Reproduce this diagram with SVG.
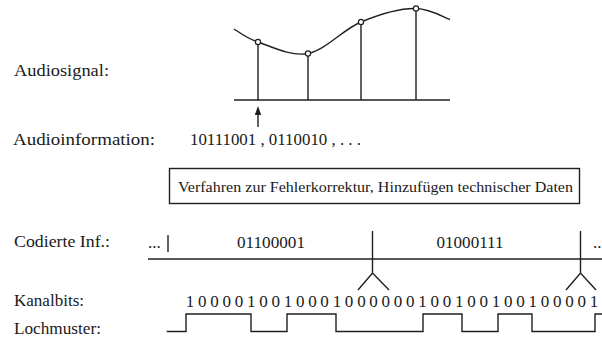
<svg xmlns="http://www.w3.org/2000/svg" width="602" height="350" viewBox="0 0 602 350">
<style>
text{font-family:"Liberation Serif","Times New Roman",serif;fill:#1a1a1a}
.lbl{font-size:17px}
.ln{stroke:#1f1f1f;stroke-width:1.4;fill:none}
.pt{fill:#fff;stroke:#1f1f1f;stroke-width:1.2}
.bits{font-size:17px}
</style>
<rect width="602" height="350" fill="#fff"/>

<g id="labels">
<text class="lbl" x="14" y="76" textLength="95" lengthAdjust="spacingAndGlyphs">Audiosignal:</text>
<text class="lbl" x="13" y="145" textLength="142" lengthAdjust="spacingAndGlyphs">Audioinformation:</text>
<text class="lbl" x="14" y="247" textLength="96" lengthAdjust="spacingAndGlyphs">Codierte Inf.:</text>
<text class="lbl" x="14" y="306" textLength="70" lengthAdjust="spacingAndGlyphs">Kanalbits:</text>
<text class="lbl" x="14" y="334" textLength="87" lengthAdjust="spacingAndGlyphs">Lochmuster:</text>
</g>

<g id="audiosignal">
<line class="ln" x1="234" y1="100" x2="450" y2="100"/>
<path class="ln" d="M234,29 C238,31.2 245.7,37.9 258,42 C270.3,46.1 290.8,56.8 308,53.5 C325.2,50.2 343,29.5 361,22 C379,14.5 401.2,8.1 416,8.5 C430.8,8.9 444.3,17.7 450,19.5"/>
<line class="ln" x1="258" y1="42" x2="258" y2="100"/>
<line class="ln" x1="308" y1="53.5" x2="308" y2="100"/>
<line class="ln" x1="361" y1="22" x2="361" y2="100"/>
<line class="ln" x1="416" y1="8.5" x2="416" y2="100"/>
<circle class="pt" cx="258" cy="42" r="2.6"/>
<circle class="pt" cx="308" cy="53.5" r="2.6"/>
<circle class="pt" cx="361" cy="22" r="2.6"/>
<circle class="pt" cx="416" cy="8.5" r="2.6"/>
</g>

<g id="connectors">
<line class="ln" x1="258" y1="127" x2="258" y2="112"/>
<polygon points="258,106 261.2,115 254.8,115" fill="#1f1f1f"/>
</g>

<g id="audioinformation">
<text class="lbl" x="190" y="145" textLength="171" lengthAdjust="spacingAndGlyphs">10111001 , 0110010 ,  . . .</text>
</g>

<g id="fehlerkorrektur">
<rect x="169.5" y="168.5" width="410" height="35" fill="none" stroke="#1f1f1f" stroke-width="1.4"/>
<text x="178" y="191.5" font-size="15" textLength="395" lengthAdjust="spacingAndGlyphs">Verfahren zur Fehlerkorrektur, Hinzufügen technischer Daten</text>
</g>

<g id="codierte">
<text class="lbl" x="148" y="248">...</text>
<line class="ln" x1="168" y1="235" x2="168" y2="252"/>
<line class="ln" x1="148" y1="259" x2="602" y2="259"/>
<text class="lbl" x="271" y="248" text-anchor="middle" textLength="68" lengthAdjust="spacingAndGlyphs">01100001</text>
<text class="lbl" x="470" y="248" text-anchor="middle" textLength="67" lengthAdjust="spacingAndGlyphs">01000111</text>
<text class="lbl" x="593" y="248">..</text>
</g>

<g id="merge1">
<path class="ln" d="M372.5,231 V273 M358,290 L372.5,273 L389,290"/>
</g>
<g id="merge2">
<path class="ln" d="M580.5,231 V273 M566,290 L580.5,273 L596,290"/>
</g>

<g id="kanalbits">
<text class="bits" y="307" text-anchor="middle" x="190 202.2 214.5 226.7 239 251.2 263.4 275.7 287.9 300.2 312.4 324.6 336.9 349.1 361.4 373.6 385.8 398.1 410.3 422.6 434.8 447 459.3 471.5 483.8 496 508.2 520.5 532.7 545 557.2 569.4 581.7 593.9">1000010010001000000100100100100001</text>
</g>

<g id="lochmuster">
<path class="ln" d="M166.7,331.5 H186 V314 H251 V331.5 H287 V314 H336 V331.5 H423 V314 H462 V331.5 H498 V314 H532 V331.5 H595 V314 H602"/>
</g>
</svg>
